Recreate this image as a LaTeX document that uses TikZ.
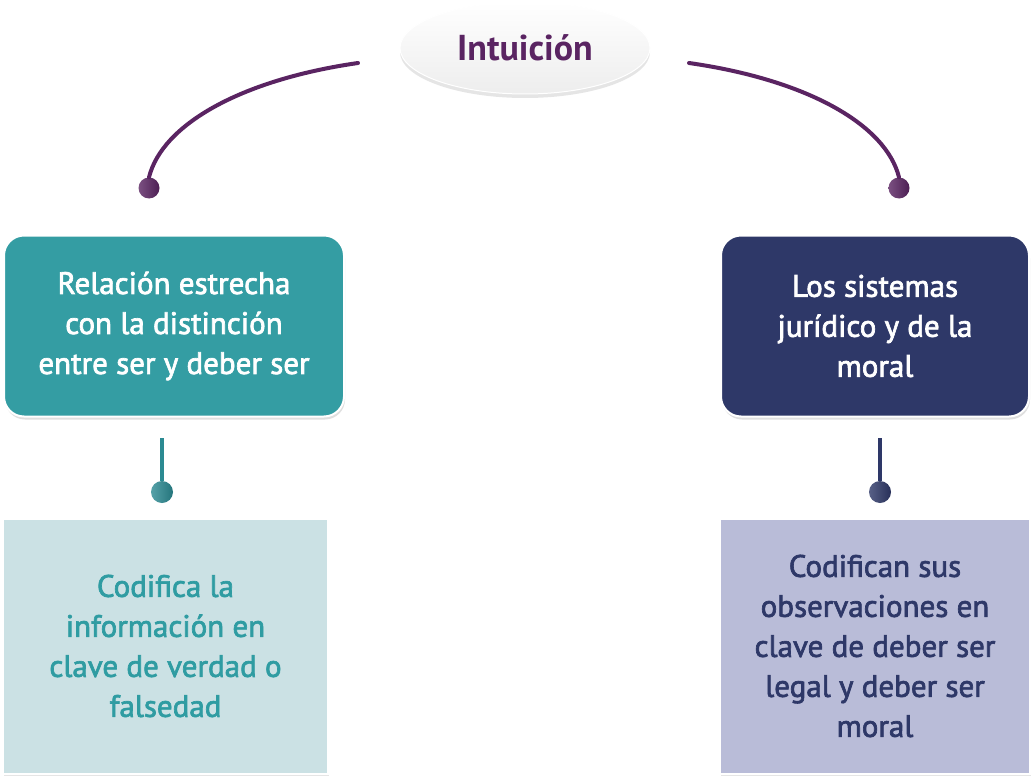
\documentclass[tikz,border=0pt]{standalone}
\usepackage{fontspec}
\setmainfont{PT Sans}
\newfontfamily\boxfont[FakeBold=2.2]{PT Sans}
\usetikzlibrary{shapes.geometric,shadows}
\definecolor{purp}{HTML}{5A2462}
\definecolor{tealbox}{HTML}{349DA3}
\definecolor{tealdark}{HTML}{2B8A92}
\definecolor{tealtxt}{HTML}{2F9CA2}
\definecolor{tealpale}{HTML}{CBE1E4}
\definecolor{navy}{HTML}{2E3868}
\definecolor{lav}{HTML}{B9BCD8}
\tikzset{
  boxtext/.style={align=center, font=\boxfont\fontsize{31}{40}\selectfont},
  topbox/.style={boxtext, rounded corners=20pt, draw=white, line width=2pt,
    drop shadow={shadow xshift=1pt, shadow yshift=-3pt, opacity=0.25}, text=white},
  lowbox/.style={boxtext, draw=white, line width=2pt,
    drop shadow={shadow xshift=1pt, shadow yshift=-2pt, opacity=0.2}},
  ball/.style 2 args={circle, minimum size=#2, inner sep=0pt,
    left color=#1!80!white, right color=#1!85!black},
  curvecon/.style={purp, line width=4pt, line cap=round},
  stem/.style={line width=4pt}
}
\begin{document}
\begin{tikzpicture}[x=1pt,y=-1pt]
\useasboundingbox[fill=white] (0,0) rectangle (1032,778);

% top ellipse
\node[ellipse, minimum width=250pt, minimum height=92pt,
  top color=white, bottom color=gray!14, draw=white, line width=1pt,
  drop shadow={shadow xshift=0pt, shadow yshift=-4pt, opacity=0.2},
  font=\fontsize{36}{40}\selectfont\bfseries, text=purp] (intu) at (525,48) {Intuición};

% curves
\coordinate (l0) at (358,63);
\coordinate (r0) at (689,63);
\node[ball={purp}{21pt}] (lb) at (149,188) {};
\node[ball={purp}{21pt}] (rb) at (899,188) {};
\draw[curvecon] (l0) .. controls (240,80) and (162,125) .. (lb.north);
\draw[curvecon] (r0) .. controls (808,80) and (886,125) .. (rb.north);

% top boxes
\node[topbox, fill=tealbox, minimum width=340pt, minimum height=181pt] (rel) at (174,326)
  {Relación estrecha\\con la distinción\\entre ser y deber ser};
\node[topbox, fill=navy, minimum width=308pt, minimum height=181pt] (sis) at (875,326)
  {Los sistemas\\jurídico y de la\\moral};

% stems
\coordinate (ls) at (162,438);
\coordinate (rs) at (880,438);
\node[ball={tealdark}{22pt}] (lsb) at (162,492) {};
\node[ball={navy}{22pt}] (rsb) at (880,492) {};
\draw[stem, tealdark] (ls) -- (lsb.north);
\draw[stem, navy] (rs) -- (rsb.north);

% bottom boxes
\node[lowbox, fill=tealpale, text=tealtxt, minimum width=325pt, minimum height=255pt] (cod) at (165.5,646)
  {Codifica la\\información en\\clave de verdad o\\falsedad};
\node[lowbox, fill=lav, text=navy, minimum width=310pt, minimum height=255pt] (codn) at (875,646)
  {Codifican sus\\observaciones en\\clave de deber ser\\legal y deber ser\\moral};
\end{tikzpicture}
\end{document}
